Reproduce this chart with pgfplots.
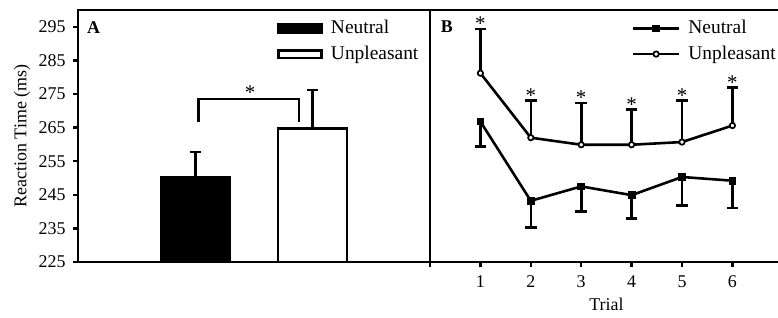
\documentclass[border=0pt]{standalone}
\usepackage{pgfplots}
\pgfplotsset{compat=1.18}
\usepackage{fontspec}
\setmainfont{Liberation Serif}
\pgfplotstableread{
trial neu neuerr unp unperr
1 266.8 7.4 281.2 13.2
2 243.2 7.9 262.0 11.0
3 247.5 7.5 259.9 12.4
4 244.9 7.0 259.9 10.4
5 250.3 8.5 260.7 12.3
6 249.2 8.1 265.6 11.4
}\trials
\tikzset{err/.style={line width=2.6bp}, errm/.style={rotate=90, line width=2.6bp, mark size=5.8bp}}
\begin{document}
\begin{tikzpicture}
\path[use as bounding box] (0,0) rectangle (778bp,318bp);
\pgfplotsset{
  common/.style={
    scale only axis, height=252bp, ymin=225, ymax=300,
    axis line style={line width=2.6bp},
    tick style={line width=2.4bp, black},
    major tick length=5bp,
    tick align=outside,
    tick label style={font=\fontsize{18}{18}\selectfont},
    label style={font=\fontsize{18}{18}\selectfont},
    /pgf/number format/assume math mode=true,
    legend cell align=left,
    legend style={draw=none, fill=none, inner sep=0pt, outer sep=0pt,
      font=\fontsize{19.5}{19.5}\selectfont, row sep=7.5bp, column sep=8bp,
      nodes={inner sep=0pt, text height=14bp, text depth=4bp}},
  }
}
% Panel A
\begin{axis}[common, at={(78bp,56bp)}, anchor=south west, width=352bp,
  xmin=78, xmax=430, xtick=\empty,
  ytick={225,235,...,295}, ytick pos=left,
  yticklabel style={xshift=-4bp},
  ylabel={Reaction Time (ms)},
  y label style={at={(axis description cs:-0.159,0.5)}, anchor=center},
  legend style={at={(axis description cs:0.5653,0.962)}, anchor=north west}]
\addplot[ybar, bar width=69, bar shift=0pt, fill=black, draw=black, line width=2.6bp,
  error bars/.cd, y dir=plus, y explicit,
  error bar style={err}, error mark options={errm},
  /pgfplots/legend image code/.code={\draw[line width=2.6bp, draw=black, fill=black] (0bp,-3.8bp) rectangle (43.4bp,3.8bp);}]
  coordinates {(195.5,250.1) +- (0,7.6)};
\addlegendentry{Neutral}
\addplot[ybar, bar width=69, bar shift=0pt, fill=white, draw=black, line width=2.6bp,
  error bars/.cd, y dir=plus, y explicit,
  error bar style={err}, error mark options={errm},
  /pgfplots/legend image code/.code={\draw[line width=2.6bp, draw=black, fill=white] (0bp,-3.8bp) rectangle (43.4bp,3.8bp);}]
  coordinates {(312.5,264.7) +- (0,11.5)};
\addlegendentry{Unpleasant}
\addplot[black, line width=2.6bp, line join=miter, forget plot]
  coordinates {(198.3,266.8) (198.3,273.5) (299,273.5) (299,266.8)};
\node[anchor=north, inner sep=0pt, font=\fontsize{21}{21}\selectfont] at (axis cs:250,277.6) {*};
\node[anchor=base west, inner sep=0pt, font=\fontsize{18}{18}\selectfont\bfseries] at (axis cs:87,293.1) {A};
\end{axis}
% Panel B
\begin{axis}[common, at={(430bp,56bp)}, anchor=south west, width=352.8bp,
  xmin=0, xmax=7, xtick={0,1,...,6}, xticklabels={,1,2,3,4,5,6}, xtick pos=bottom,
  xticklabel style={yshift=-5bp},
  ytick=\empty,
  xlabel={Trial},
  x label style={yshift=-4bp},
  legend style={at={(axis description cs:0.572,0.962)}, anchor=north west},
  legend image code/.code={\draw[#1, mark repeat=2, mark phase=2] plot coordinates {(0bp,0bp) (23bp,0bp) (46bp,0bp)};}]
\addplot[black, line width=2.6bp, mark=square*, mark size=3.4bp, mark options={solid, fill=black, line width=1bp},
  error bars/.cd, y dir=minus, y explicit,
  error bar style={err}, error mark options={errm}]
  table[x=trial, y=neu, y error=neuerr] {\trials};
\addlegendentry{Neutral}
\addplot[black, line width=2.6bp, mark=*, mark size=2.7bp, mark options={solid, fill=white, line width=1.7bp},
  error bars/.cd, y dir=plus, y explicit,
  error bar style={err}, error mark options={errm}]
  table[x=trial, y=unp, y error=unperr] {\trials};
\addlegendentry{Unpleasant}
\foreach \t/\v in {1/298.0, 2/276.6, 3/275.9, 4/273.9, 5/276.6, 6/280.6} {
  \edef\temp{\noexpand\node[anchor=north, inner sep=0pt, font=\noexpand\fontsize{21}{21}\noexpand\selectfont] at (axis cs:\t,\v) {*};}
  \temp
}
\node[anchor=base west, inner sep=0pt, font=\fontsize{18}{18}\selectfont\bfseries] at (axis cs:0.21,293.2) {B};
\end{axis}
\end{tikzpicture}
\end{document}
